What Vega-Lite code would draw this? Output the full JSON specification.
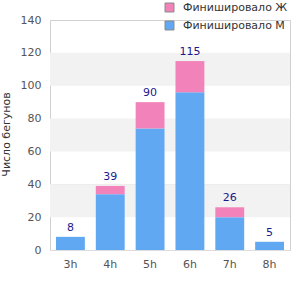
{
  "$schema": "https://vega.github.io/schema/vega-lite/v6.json",
  "width": 240,
  "height": 230,
  "autosize": {"type": "none"},
  "padding": {"left": 50, "top": 20, "right": 10, "bottom": 50},
  "background": "white",
  "config": {
    "font": "DejaVu Sans",
    "view": {"stroke": "#d0d0d0", "strokeWidth": 1},
    "axisY": {"labelOverlap": false, "ticks": false, "domain": false, "gridColor": "#dddddd",
              "labelColor": "#555555", "labelFontSize": 11, "labelPadding": 9}
  },
  "resolve": {"axis": {"y": "independent"}, "scale": {"y": "shared"}},
  "datasets": {
    "runners": [
      {"hour": "3h", "sex": "Финишировало М", "count": 8},
      {"hour": "3h", "sex": "Финишировало Ж", "count": 0},
      {"hour": "4h", "sex": "Финишировало М", "count": 34},
      {"hour": "4h", "sex": "Финишировало Ж", "count": 5},
      {"hour": "5h", "sex": "Финишировало М", "count": 74},
      {"hour": "5h", "sex": "Финишировало Ж", "count": 16},
      {"hour": "6h", "sex": "Финишировало М", "count": 96},
      {"hour": "6h", "sex": "Финишировало Ж", "count": 19},
      {"hour": "7h", "sex": "Финишировало М", "count": 20},
      {"hour": "7h", "sex": "Финишировало Ж", "count": 6},
      {"hour": "8h", "sex": "Финишировало М", "count": 5},
      {"hour": "8h", "sex": "Финишировало Ж", "count": 0}
    ],
    "totals": [
      {"hour": "3h", "total": 8},
      {"hour": "4h", "total": 39},
      {"hour": "5h", "total": 90},
      {"hour": "6h", "total": 115},
      {"hour": "7h", "total": 26},
      {"hour": "8h", "total": 5}
    ],
    "bands": [
      {"lo": 20, "hi": 40},
      {"lo": 60, "hi": 80},
      {"lo": 100, "hi": 120}
    ]
  },
  "layer": [
    {
      "data": {"name": "bands"},
      "mark": {"type": "rect", "color": "#f2f2f2"},
      "encoding": {
        "y": {"field": "lo", "type": "quantitative", "scale": {"domain": [0, 140], "nice": false},
              "axis": {"orient": "left", "title": "Число бегунов", "titleFontSize": 11, "titleFontWeight": "normal", "titleColor": "#333333",
                       "titleX": -41, "titleY": 114, "titleBaseline": "alphabetic", "titleAngle": -90,
                       "values": [0, 40, 80, 120]}},
        "y2": {"field": "hi"}
      }
    },
    {
      "data": {"name": "runners"},
      "mark": {"type": "bar"},
      "encoding": {
        "x": {
          "field": "hour", "type": "nominal",
          "scale": {"paddingInner": 0.275, "paddingOuter": 0.15},
          "axis": {"title": null, "labelAngle": 0, "ticks": false, "domain": false, "labelColor": "#555555", "labelFontSize": 11, "labelPadding": 8}
        },
        "y": {"field": "count", "type": "quantitative", "stack": "zero",
              "axis": {"orient": "left", "title": null, "values": [20, 60, 100, 140]}},
        "color": {
          "field": "sex", "type": "nominal",
          "scale": {"domain": ["Финишировало Ж", "Финишировало М"], "range": ["#f283ba", "#60a8f2"]},
          "legend": {"title": null, "orient": "none", "legendX": 114, "legendY": -18, "symbolType": "square", "symbolSize": 80,
                     "symbolStrokeColor": "#888888", "symbolStrokeWidth": 1, "labelFontSize": 11, "labelColor": "#333333",
                     "rowPadding": 5, "labelOffset": 8}
        },
        "order": {"field": "sex", "sort": "descending"}
      }
    },
    {
      "data": {"name": "totals"},
      "mark": {"type": "text", "dy": -9, "color": "#1a1a8c", "fontSize": 11},
      "encoding": {
        "x": {"field": "hour", "type": "nominal"},
        "y": {"field": "total", "type": "quantitative", "axis": null},
        "text": {"field": "total"}
      }
    }
  ]
}
